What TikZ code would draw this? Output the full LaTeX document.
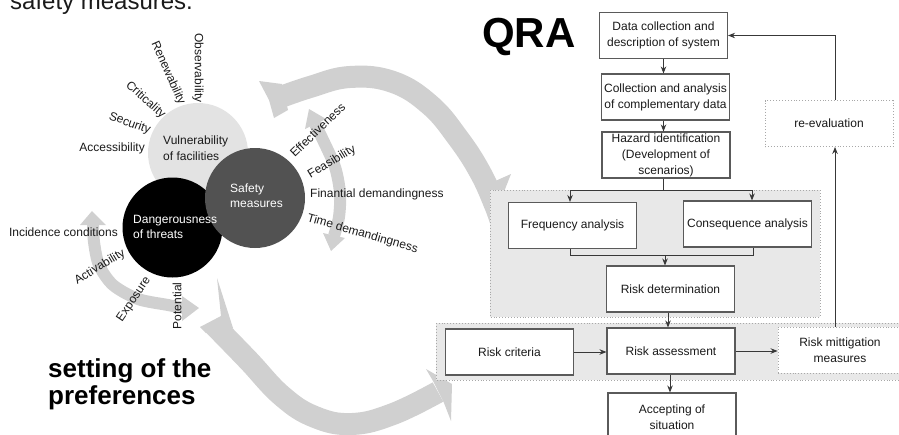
\documentclass[tikz,border=0pt]{standalone}
\usepackage{fontspec}
\setmainfont{Liberation Sans}
\usetikzlibrary{arrows.meta,calc}
\definecolor{bandgray}{HTML}{D0D0D0}
\definecolor{vulgray}{HTML}{E3E3E3}
\definecolor{safegray}{HTML}{525252}
\definecolor{panelgray}{HTML}{E8E8E8}
\definecolor{dotgray}{HTML}{A8A8A8}
\definecolor{boxline}{HTML}{5A5A5A}
\definecolor{connc}{HTML}{383838}
\definecolor{txt}{HTML}{1A1A1A}
\begin{document}
\begin{tikzpicture}[x=1pt,y=-1pt,
  font=\fontsize{12}{15}\selectfont,
  band/.style={line width=22pt, draw=bandgray, line cap=butt},
  sband/.style={line width=12pt, draw=bandgray, line cap=butt},
  head/.style={fill=bandgray},
  flowbox/.style={draw=boxline, line width=1.1pt, fill=white, minimum width=128pt, minimum height=46pt, align=center, inner sep=1pt, font=\fontsize{12}{16}\selectfont, text=txt},
  dotbox/.style={draw=dotgray, dotted, line width=0.9pt, fill=white, minimum width=128pt, minimum height=46pt, align=center, inner sep=1pt, font=\fontsize{12}{16}\selectfont, text=txt},
  panel/.style={draw=dotgray, dotted, line width=0.9pt, fill=panelgray},
  link/.style={draw=connc, line width=0.9pt},
  conn/.style={draw=connc, line width=0.9pt, -{Stealth[length=7pt,width=5.5pt]}},
  lbl/.style={text=txt, inner sep=0pt},
  disc/.style={circle, minimum size=100pt, inner sep=0pt},
  ctext/.style={align=left, inner sep=0pt, font=\fontsize{12}{15.5}\selectfont}
]
\useasboundingbox (0,0) rectangle (899,434);
\clip (0,0) rectangle (899,434);

% partial title at top
\node[anchor=base west, inner sep=0pt, font=\fontsize{24}{24}\selectfont, text=txt] (toptitle) at (10,9) {safety measures.};

% ---------- big gray arrows ----------
\draw[band] plot[smooth, tension=0.7] coordinates {(270,101) (310,87) (350,77) (393,82) (430,105) (458,138) (480,172) (495,205) (502,225)};
\fill[head] (259,81) -- (282,84) -- (288,110) -- (274,118) -- (269,100) -- cycle;
\fill[head] (484,186) -- (511,174) -- (500,202) -- cycle;

\draw[band] plot[smooth, tension=0.7] coordinates {(213,324) (248,360) (282,396) (315,417) (352,424) (393,414) (438,392)};
\fill[head] (200,327) -- (221,316) -- (217,278) -- (233,328) -- (206,333) -- cycle;
\fill[head] (433,381) -- (426,369) -- (452,384) -- (451,421) -- (444,403) -- cycle;

% small double arrows
\draw[sband] plot[smooth] coordinates {(315,124) (323,140) (335,167) (340,193) (339,217) (334,236)};
\fill[head] (305,129) -- (309,109) -- (326,119) -- cycle;
\fill[head] (323,233) -- (331,251) -- (345,238) -- cycle;

\draw[sband] plot[smooth] coordinates {(93,222) (94,242) (99,265) (113,285) (138,299) (168,305) (184,308)};
\fill[head] (80,225) -- (92,211) -- (106,225) -- cycle;
\fill[head] (182,296) -- (199,308) -- (182,321) -- cycle;

% ---------- circles ----------
\node[disc, fill=vulgray] (vul) at (198,153) {};
\node[disc, fill=black] (dang) at (172.5,227.5) {};
\node[disc, fill=safegray] (safe) at (255,198) {};

\node[ctext, anchor=west, text=txt] (vult) at (163,148) {Vulnerability\\of facilities};
\node[ctext, anchor=west, text=white] (safet) at (230,195.5) {Safety\\measures};
\node[ctext, anchor=west, text=white] (dangt) at (133,227) {Dangerousness\\of threats};

% ---------- labels ----------
\node[lbl, anchor=east] (l1) at (145,148) {Accessibility};
\node[lbl, rotate=-20] (l2) at (129.7,123.5) {Security};
\node[lbl, rotate=-42] (l3) at (145.5,100) {Criticality};
\node[lbl, rotate=-66] (l4) at (168,73) {Renewability};
\node[lbl, rotate=-90] (l5) at (198,68) {Observability};

\node[lbl, rotate=44] (l6) at (317.5,130) {Effectiveness};
\node[lbl, rotate=31] (l7) at (332,162) {Feasibility};
\node[lbl, anchor=west] (l8) at (310,194) {Finantial demandingness};
\node[lbl, rotate=-16] (l9) at (362.5,234) {Time demandingness};

\node[lbl, anchor=east] (l10) at (118,232) {Incidence conditions};
\node[lbl, rotate=31] (l11) at (100,267) {Activability};
\node[lbl, rotate=56] (l12) at (134,299.5) {Exposure};
\node[lbl, rotate=90] (l13) at (177,306) {Potential};

\node[anchor=base west, inner sep=0pt, font=\fontsize{26}{26}\bfseries\selectfont] (pref1) at (48,377) {setting of the};
\node[anchor=base west, inner sep=0pt, font=\fontsize{26}{26}\bfseries\selectfont] (pref2) at (48,404) {preferences};
\node[anchor=base west, inner sep=0pt, font=\fontsize{42}{42}\bfseries\selectfont] (qra) at (482,47) {QRA};

% ---------- flowchart ----------
\draw[panel] (490,190) rectangle (820,317);
\draw[panel] (436,323) rectangle (910,380);

\node[flowbox] (d1) at (663.5,35.5) {Data collection and\\description of system};
\node[flowbox] (d2) at (665.5,97) {Collection and analysis\\of complementary data};
\node[flowbox] (d3) at (666,155) {Hazard identification\\(Development of\\scenarios)};
\node[flowbox] (freq) at (572.5,225.5) {Frequency analysis};
\node[flowbox] (cons) at (747.5,224) {Consequence analysis};
\node[flowbox] (rdet) at (670.5,289) {Risk determination};
\node[flowbox] (crit) at (509.5,352) {Risk criteria};
\node[flowbox] (ass) at (671,351) {Risk assessment};
\node[dotbox, minimum width=124pt] (mit) at (840,350) {Risk mittigation\\measures};
\node[flowbox, minimum height=48pt] (acc) at (672,417) {Accepting of\\situation};
\node[dotbox] (reev) at (829,123.5) {re-evaluation};

\coordinate (y190) at (0,190);
\coordinate (y255) at (0,255);
\coordinate (xr) at (835,0);

\draw[conn] (d1.south) -- (d1.south |- d2.north);
\draw[conn] ([xshift=-2pt]d2.south) -- ([xshift=-2pt]d2.south |- d3.north);
\draw[link] ([xshift=-3pt]d3.south) -- ([xshift=-3pt]d3.south |- y190);
\draw[conn] ([xshift=-3pt]d3.south |- y190) -| ([xshift=-2.5pt]freq.north);
\draw[conn] ([xshift=-3pt]d3.south |- y190) -| ([xshift=4.5pt]cons.north);
\draw[link] ([xshift=-2.5pt]freq.south) |- ([xshift=5.5pt]cons.south |- y255) -- ([xshift=5.5pt]cons.south);
\draw[conn] ([xshift=-5.5pt]rdet.north |- y255) -- ([xshift=-5.5pt]rdet.north);
\draw[conn] ([xshift=-2.5pt]rdet.south) -- ([xshift=-2.5pt]rdet.south |- ass.north);
\draw[conn] (crit.east) -- (crit.east -| ass.west);
\draw[conn] (ass.east) -- (ass.east -| mit.west);
\draw[conn] ([xshift=-1pt]ass.south) -- ([xshift=-1pt]ass.south |- acc.north);
\draw[conn] (mit.north -| xr) -- (reev.south -| xr);
\draw[conn] (reev.north -| xr) |- (d1.east);
\end{tikzpicture}
\end{document}
